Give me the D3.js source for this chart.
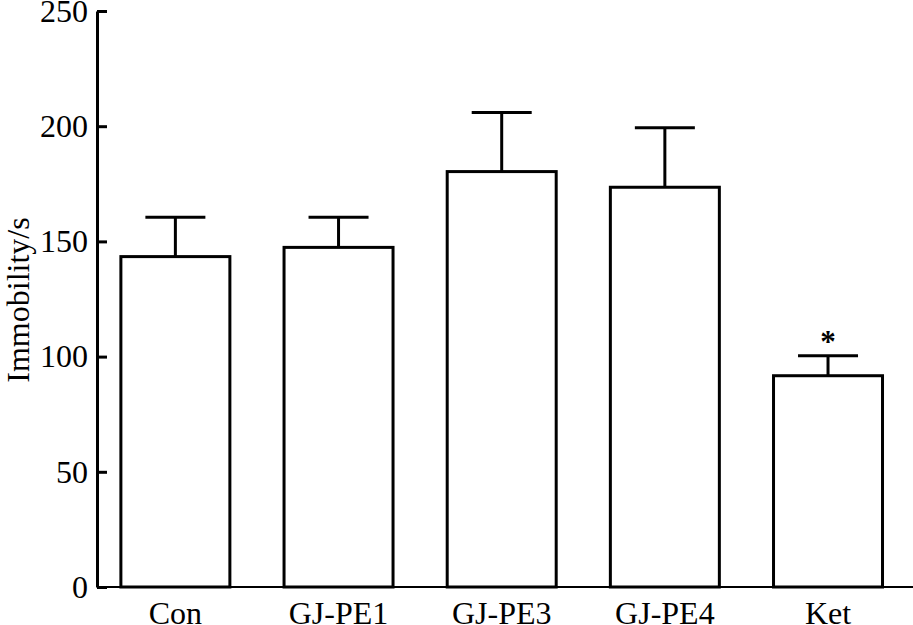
<!DOCTYPE html>
<html>
<head>
<meta charset="utf-8">
<script src="https://cdn.jsdelivr.net/npm/d3@7"></script>
<style>
  html, body { margin: 0; padding: 0; background: #fff; }
  svg { display: block; }
  text { font-family: "Liberation Serif", "Times New Roman", serif; fill: #000; }
</style>
</head>
<body>
<svg id="chart" width="913" height="625"></svg>
<script>
const categories = ["Con", "GJ-PE1", "GJ-PE3", "GJ-PE4", "Ket"];
const means = [143.4, 147.4, 180.3, 173.5, 91.7];
const errUpper = [160.5, 160.5, 205.9, 199.3, 100.4];
const marks = ["", "", "", "", "*"];
const yTicks = [0, 50, 100, 150, 200, 250];
const yLabel = "Immobility/s";

const svg = d3.select("#chart");
const x0 = 97, yBase = 587, yTop = 11;

const x = d3.scaleBand()
  .domain(categories)
  .range([93.8, 909.6])
  .paddingInner(0.332)
  .paddingOuter(0.166);

const y = d3.scaleLinear().domain([0, 250]).range([yBase, yTop]);

// x baseline (thin)
svg.append("line")
  .attr("x1", x0).attr("x2", 913)
  .attr("y1", y(0)).attr("y2", y(0))
  .attr("stroke", "#000").attr("stroke-width", 2);

const data = categories.map((c, i) => ({ c, m: means[i], e: errUpper[i], s: marks[i] }));

// error bars
const eg = svg.append("g");
eg.selectAll("line.v").data(data).join("line")
  .attr("x1", d => x(d.c) + x.bandwidth() / 2)
  .attr("x2", d => x(d.c) + x.bandwidth() / 2)
  .attr("y1", d => y(d.m)).attr("y2", d => y(d.e))
  .attr("stroke", "#000").attr("stroke-width", 3);
eg.selectAll("line.cap").data(data).join("line")
  .attr("x1", d => x(d.c) + x.bandwidth() / 2 - 30)
  .attr("x2", d => x(d.c) + x.bandwidth() / 2 + 30)
  .attr("y1", d => y(d.e)).attr("y2", d => y(d.e))
  .attr("stroke", "#000").attr("stroke-width", 3);

// bars
svg.append("g").selectAll("rect").data(data).join("rect")
  .attr("x", d => x(d.c))
  .attr("y", d => y(d.m))
  .attr("width", x.bandwidth())
  .attr("height", d => y(0) - y(d.m))
  .attr("fill", "#fff")
  .attr("stroke", "#000").attr("stroke-width", 3);

// significance marks
svg.append("g").selectAll("text").data(data.filter(d => d.s)).join("text")
  .attr("x", d => x(d.c) + x.bandwidth() / 2)
  .attr("y", d => y(d.e) - 4)
  .attr("text-anchor", "middle")
  .attr("font-size", 31)
  .attr("font-weight", "bold")
  .text(d => d.s);

// y axis
const yAxis = d3.axisLeft(y).tickValues(yTicks).tickSizeInner(-10).tickSizeOuter(0).tickPadding(9);
const ga = svg.append("g").attr("transform", `translate(${x0},0)`).call(yAxis);
ga.select(".domain").attr("stroke-width", 3);
ga.selectAll(".tick line").attr("stroke-width", 3);
ga.selectAll(".tick text").attr("font-size", 32)
  .attr("font-family", '"Liberation Serif", "Times New Roman", serif')
  .attr("fill", "#000");

// x labels
const xAxis = d3.axisBottom(x).tickSize(0).tickPadding(14);
const gx = svg.append("g").attr("transform", `translate(0,${yBase})`).call(xAxis);
gx.select(".domain").remove();
gx.selectAll(".tick text").attr("font-size", 32)
  .attr("font-family", '"Liberation Serif", "Times New Roman", serif')
  .attr("fill", "#000");

// y label
svg.append("text")
  .attr("transform", `translate(29,${(yBase + yTop) / 2 + 1}) rotate(-90)`)
  .attr("text-anchor", "middle")
  .attr("font-size", 32)
  .text(yLabel);
</script>
</body>
</html>
